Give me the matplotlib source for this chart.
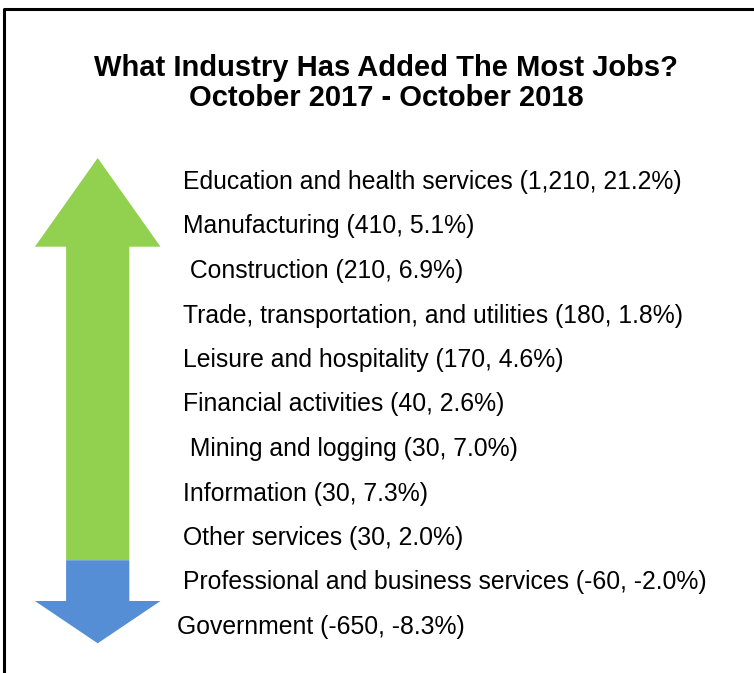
import matplotlib.pyplot as plt
from matplotlib.patches import Polygon

# data
industries = ["Education and health services", "Manufacturing", " Construction",
              "Trade, transportation, and utilities", "Leisure and hospitality",
              "Financial activities", " Mining and logging", "Information",
              "Other services", "Professional and business services", "Government"]
jobs = [1210, 410, 210, 180, 170, 40, 30, 30, 30, -60, -650]
pct = [21.2, 5.1, 6.9, 1.8, 4.6, 2.6, 7.0, 7.3, 2.0, -2.0, -8.3]
title_lines = ["What Industry Has Added The Most Jobs?", "October 2017 - October 2018"]

GREEN = "#92D050"
BLUE = "#558ED5"

fig = plt.figure(figsize=(7.54, 6.73), dpi=100)
ax = fig.add_axes([0, 0, 1, 1])
ax.set_xlim(0, 754)
ax.set_ylim(673, 0)
ax.axis("off")

# frame (only top + left visible in the crop)
ax.plot([4, 4, 760], [680, 9, 9], color="black", lw=2.2, solid_capstyle="butt")

for k, line in enumerate(title_lines):
    ax.text(386, 68 + k * 30, line, ha="center", va="center", fontsize=21,
            fontweight="bold", family=["Liberation Sans", "DejaVu Sans"])

# list of industries
y0, dy = 182, 44.5
xoff = [0] * len(industries)
xoff[-1] = -6
ys = []
for i, (n, j, p) in enumerate(zip(industries, jobs, pct)):
    y = y0 + i * dy
    ys.append(y)
    ax.text(183 + xoff[i], y, f"{n} ({j:,}, {p:.1f}%)", ha="left", va="center",
            fontsize=17.8, family=["Liberation Sans", "DejaVu Sans"])

# arrow, green/blue split where the values turn negative
first_neg = next(i for i, j in enumerate(jobs) if j < 0)
split = (ys[first_neg - 1] + ys[first_neg]) / 2
cx, hw, sw = 97.7, 62.8, 31.6
tip_top, head_top = 158, 246.7
head_bot, tip_bot = 601, 643.3
ax.add_patch(Polygon([(cx, tip_top), (cx + hw, head_top), (cx + sw, head_top),
                      (cx + sw, split), (cx - sw, split), (cx - sw, head_top),
                      (cx - hw, head_top)], closed=True, color=GREEN, lw=0))
ax.add_patch(Polygon([(cx - sw, split), (cx + sw, split), (cx + sw, head_bot),
                      (cx + hw, head_bot), (cx, tip_bot), (cx - hw, head_bot),
                      (cx - sw, head_bot)], closed=True, color=BLUE, lw=0))

fig.savefig("out.png", dpi=100)
